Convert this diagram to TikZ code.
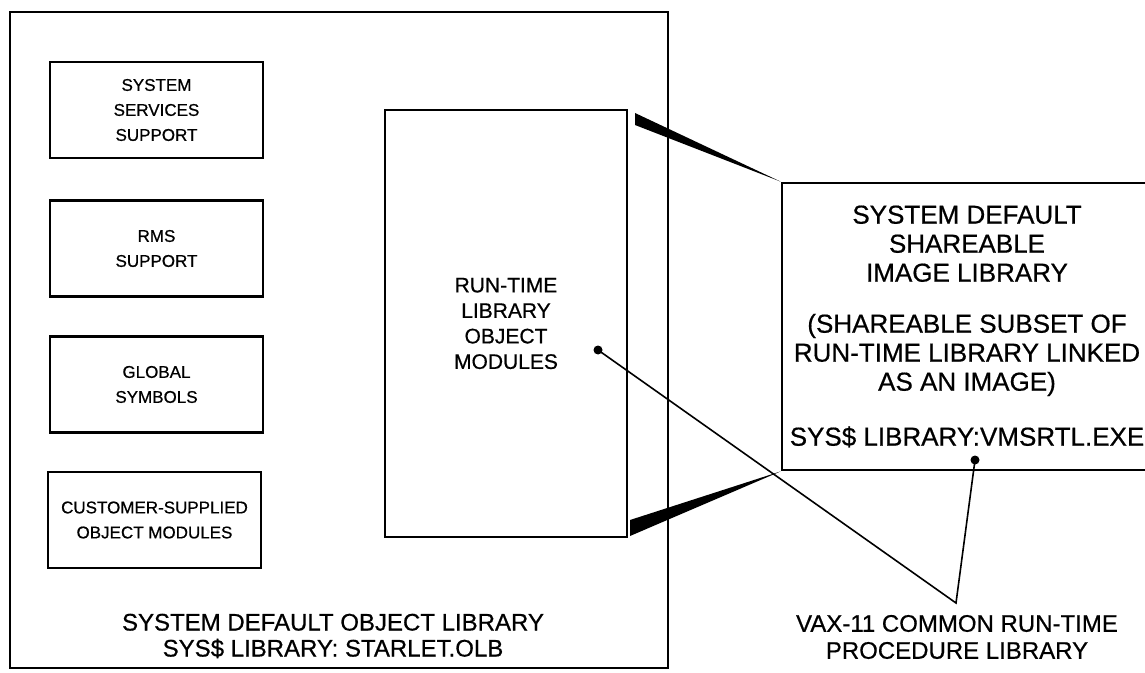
\documentclass[tikz,border=0pt]{standalone}
\usepackage{fontspec}
\setmainfont{Liberation Sans}[FakeBold=0.6]
\begin{document}
\begin{tikzpicture}[x=1bp,y=-1bp]
% object library, shareable image library and the leaders between them
\ifx\liblw\undefined\newdimen\liblw\fi
\global\def\libdraw{\draw[line width=\liblw]}
\global\def\libstop{;}
\liblw=2.8bp
\tikzset{
 modbox/.style={draw,line width=\liblw,minimum width=213bp,minimum height=96bp,
  inner sep=0pt,align=center,font=\fontsize{17bp}{25bp}\selectfont},
 libdot/.style={circle,fill,inner sep=0pt,minimum size=9bp},
 leader/.style={line width=1.6bp},
}
\clip (0,0) rectangle (1145,673);
\node[draw,line width=\liblw,minimum width=658bp,minimum height=656bp,inner sep=0pt] (olb) at (339,340) {};
\node[modbox] (sss) at (156.5,110) {SYSTEM\\SERVICES\\SUPPORT};
\node[modbox] (rms) at (156.5,248.5) {RMS\\SUPPORT};
\node[modbox] (gsym) at (156.5,384.5) {GLOBAL\\SYMBOLS};
\node[modbox] (cust) at (154.5,520) {CUSTOMER-SUPPLIED\\OBJECT MODULES};
\node[draw,line width=\liblw,minimum width=242bp,minimum height=427bp,inner sep=0pt,
 align=center,font=\fontsize{21bp}{25.5bp}\selectfont] (rtl) at (506,323.5)
 {RUN-TIME\\LIBRARY\\OBJECT\\MODULES};
\node[align=center,font=\fontsize{24bp}{26bp}\selectfont] (olbtxt) at (333,636)
 {SYSTEM DEFAULT OBJECT LIBRARY\\SYS\$ LIBRARY: STARLET.OLB};
% shareable image library, open to the right
\node[draw,line width=\liblw,minimum width=370bp,minimum height=287bp,inner sep=0pt,
 align=center,font=\fontsize{26bp}{29bp}\selectfont] (shr) at (967,326.5)
 {SYSTEM DEFAULT\\SHAREABLE\\IMAGE LIBRARY\\[22bp]
  (SHAREABLE SUBSET OF\\RUN-TIME LIBRARY LINKED\\AS AN IMAGE)\\[26bp]
  SYS\$ LIBRARY:VMSRTL.EXE};
\fill (635,113) -- (shr.north west) -- (635,125) -- cycle\libstop
\fill (630,520) -- (shr.south west) -- (630,536) -- cycle\libstop
% leaders
\node[libdot] (rtldot) at (598,350) {};
\node[libdot] (shrdot) at (975,460) {};
\coordinate (apex) at (956,603);
\draw[leader] (rtldot.center) -- (apex) -- (shrdot.center)\libstop
\node[align=center,font=\fontsize{24bp}{27bp}\selectfont] (vaxtxt) at (957,637)
 {VAX-11 COMMON RUN-TIME\\PROCEDURE LIBRARY};
\end{tikzpicture}
\end{document}
